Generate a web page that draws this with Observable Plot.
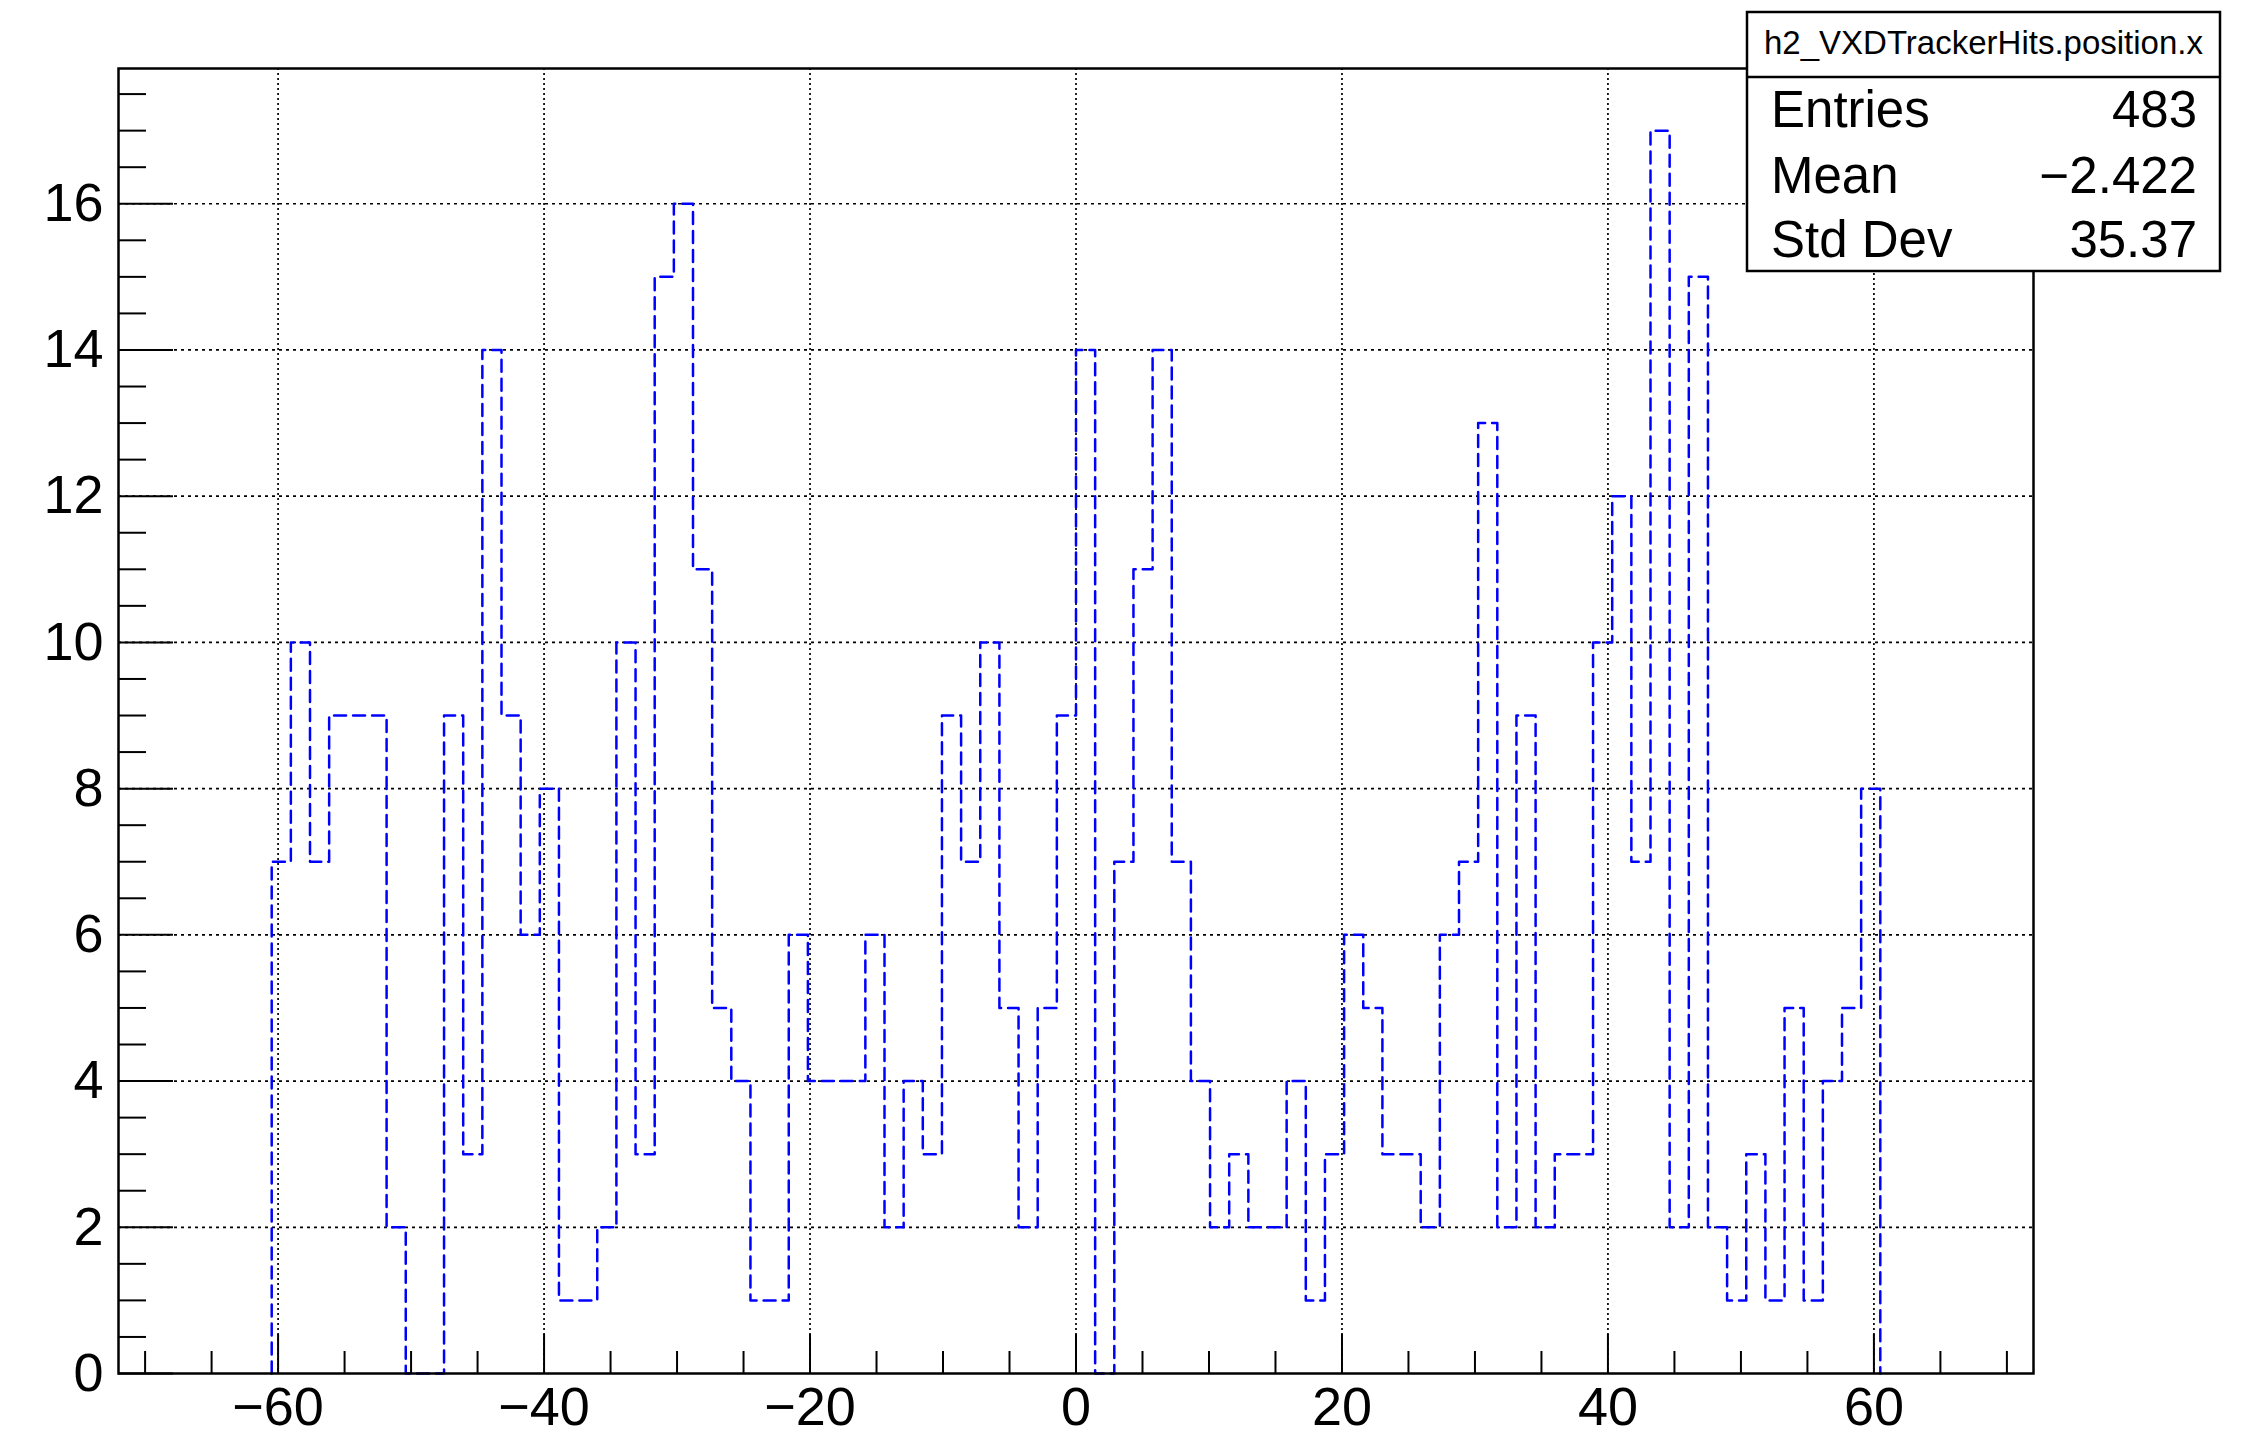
<!DOCTYPE html>
<html>
<head>
<meta charset="utf-8">
<script src="https://cdn.jsdelivr.net/npm/d3@7"></script>
<script src="https://cdn.jsdelivr.net/npm/@observablehq/plot@0.6"></script>
<style>
  html, body { margin: 0; padding: 0; background: white; }
  #chart { width: 2258px; height: 1434px; }
</style>
</head>
<body>
<div id="chart"></div>
<script>
// ---- Histogram data (100 bins from -72 to 72, width 1.44) ----
const histName = "h2_VXDTrackerHits.position.x";
const binLow = -72;
const binHigh = 72;
const nBins = 100;
const counts = [
  0, 0, 0, 0, 0, 0, 0, 0, 7, 10,
  7, 9, 9, 9, 2, 0, 0, 9, 3, 14,
  9, 6, 8, 1, 1, 2, 10, 3, 15, 16,
  11, 5, 4, 1, 1, 6, 4, 4, 4, 6,
  2, 4, 3, 9, 7, 10, 5, 2, 5, 9,
  14, 0, 7, 11, 14, 7, 4, 2, 3, 2,
  2, 4, 1, 3, 6, 5, 3, 3, 2, 6,
  7, 13, 2, 9, 2, 3, 3, 10, 12, 7,
  17, 2, 15, 2, 1, 3, 1, 5, 1, 4,
  5, 8, 0, 0, 0, 0, 0, 0, 0, 0
];
// ---- Axis ticks ----
const xMajorTicks = [-60, -40, -20, 0, 20, 40, 60];
const xMinorTicks = [-70, -65, -55, -50, -45, -35, -30, -25, -15, -10, -5, 5, 10, 15, 25, 30, 35, 45, 50, 55, 65, 70];
const yMajorTicks = [0, 2, 4, 6, 8, 10, 12, 14, 16];
const yMinorTicks = [0.5, 1, 1.5, 2.5, 3, 3.5, 4.5, 5, 5.5, 6.5, 7, 7.5, 8.5, 9, 9.5, 10.5, 11, 11.5, 12.5, 13, 13.5, 14.5, 15, 15.5, 16.5, 17, 17.5];
const yMax = 17.85;
// ---- Stats box ----
const statLabels = ["Entries", "Mean", "Std Dev"];
const statValues = ["483", "\u22122.422", "35.37"];

// Build step outline (ROOT-style histogram outline)
const binWidth = (binHigh - binLow) / nBins;
let first = counts.findIndex(v => v > 0);
let last = counts.length - 1 - [...counts].reverse().findIndex(v => v > 0);
const steps = [{x: binLow + first * binWidth, y: 0}];
for (let i = first; i <= last; i++) steps.push({x: binLow + i * binWidth, y: counts[i]});
steps.push({x: binLow + (last + 1) * binWidth, y: 0});

const W = 2258, H = 1434;
const mL = 118, mR = 225, mT = 68, mB = 61;
const fw = W - mL - mR, fh = H - mT - mB;
const font = "'Liberation Sans', Arial, Helvetica, sans-serif";

const chart = Plot.plot({
  width: W, height: H,
  marginLeft: mL, marginRight: mR, marginTop: mT, marginBottom: mB,
  x: {domain: [binLow, binHigh], label: null},
  y: {domain: [0, yMax], label: null},
  style: {fontFamily: font, fontSize: "54px", background: "white", color: "black", overflow: "visible"},
  marks: [
    Plot.ruleX(xMajorTicks, {stroke: "black", strokeWidth: 1.7, strokeDasharray: "2,3"}),
    Plot.ruleY(yMajorTicks.filter(v => v > 0), {stroke: "black", strokeWidth: 1.7, strokeDasharray: "3,4"}),
    Plot.line(steps, {x: "x", y: "y", curve: "step-after", stroke: "#0000ff", strokeWidth: 2.5, strokeDasharray: "12,7"}),
    Plot.ruleX(xMajorTicks, {insetTop: fh - 39, stroke: "black", strokeWidth: 2}),
    Plot.ruleX(xMinorTicks, {insetTop: fh - 22, stroke: "black", strokeWidth: 2}),
    Plot.ruleY(yMajorTicks, {insetRight: fw - 55, stroke: "black", strokeWidth: 2}),
    Plot.ruleY(yMinorTicks, {insetRight: fw - 28, stroke: "black", strokeWidth: 2}),
    Plot.frame({stroke: "black", strokeWidth: 2.5}),
    Plot.axisX(xMajorTicks, {tickSize: 0, tickPadding: 13, fontSize: 54, label: null, tickFormat: d3.format("d")}),
    Plot.axisY(yMajorTicks, {tickSize: 0, tickPadding: 15, fontSize: 54, label: null, tickFormat: d3.format("d")})
  ]
});
document.getElementById("chart").appendChild(chart);

// Stats box overlay
const svg = d3.select(chart);
const bx = 1747, by = 12, bw = 473, bh = 259, divY = 77;
const g = svg.append("g").attr("font-family", font).attr("text-anchor", "start");
g.append("rect").attr("x", bx).attr("y", by).attr("width", bw).attr("height", bh)
  .attr("fill", "white").attr("stroke", "black").attr("stroke-width", 2.5);
g.append("line").attr("x1", bx).attr("x2", bx + bw).attr("y1", divY).attr("y2", divY)
  .attr("stroke", "black").attr("stroke-width", 2.5);
g.append("text").attr("x", bx + bw / 2).attr("y", 54).attr("text-anchor", "middle")
  .attr("font-size", 33).attr("fill", "black").text(histName);
const rowY = [127, 193, 257];
statLabels.forEach((lab, i) => {
  g.append("text").attr("x", 1771).attr("y", rowY[i]).attr("text-anchor", "start").attr("font-size", 51).attr("fill", "black").text(lab);
  g.append("text").attr("x", 2197).attr("y", rowY[i]).attr("text-anchor", "end").attr("font-size", 51).attr("fill", "black").text(statValues[i]);
});
</script>
</body>
</html>
